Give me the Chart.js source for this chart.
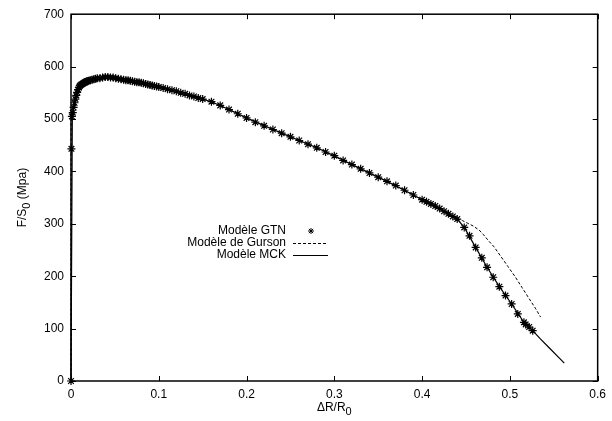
<!DOCTYPE html>
<html>
<head>
<meta charset="utf-8">
<script src="https://cdn.jsdelivr.net/npm/chart.js@4/dist/chart.umd.min.js"></script>
<style>
  html, body { margin: 0; padding: 0; background: #fff; }
  #wrap { width: 612px; height: 421px; position: relative; }
</style>
</head>
<body>
<div id="wrap"><canvas id="chart"></canvas></div>
<script>
// Axis ticks
const xTickLabels = ['0', '0.1', '0.2', '0.3', '0.4', '0.5', '0.6'];
const yTickLabels = ['0', '100', '200', '300', '400', '500', '600', '700'];

// Modèle GTN (stars)
const gtnX = [0, 0.0005, 0.001, 0.002, 0.003, 0.004, 0.005, 0.006, 0.007, 0.008, 0.009, 0.010, 0.011, 0.012,
  0.013, 0.014, 0.015, 0.016, 0.017, 0.018, 0.019,
  0.020, 0.022, 0.024, 0.026, 0.028, 0.030, 0.033, 0.036, 0.039, 0.042, 0.045, 0.048, 0.051, 0.054, 0.057,
  0.060, 0.0625, 0.065, 0.0675, 0.070, 0.0725, 0.075, 0.0775, 0.080, 0.0825, 0.085, 0.0875, 0.090, 0.0925,
  0.095, 0.0975, 0.100, 0.105, 0.110, 0.115, 0.120, 0.125, 0.130, 0.135, 0.140, 0.145,
  0.150, 0.160, 0.170, 0.180, 0.190, 0.200, 0.210, 0.220, 0.230, 0.240, 0.250, 0.260, 0.270, 0.280, 0.290,
  0.300, 0.310, 0.320, 0.330, 0.340, 0.350, 0.360, 0.370, 0.380, 0.390, 0.400, 0.405, 0.410, 0.415, 0.420,
  0.425, 0.430, 0.435, 0.440, 0.448, 0.454, 0.461, 0.468, 0.474, 0.481, 0.488, 0.495, 0.502, 0.509, 0.516,
  0.518, 0.522, 0.526];
const gtnY = [0, 443, 505, 512, 522, 531, 538, 545, 551, 556, 560, 563, 565, 566,
  567, 568, 569, 570, 571, 572, 572,
  573, 574, 575, 576, 577, 578, 578, 579, 580, 580, 579, 579, 578, 577, 576,
  575, 574, 574, 573, 572, 571, 570, 570, 569, 568, 567, 566, 565, 564,
  563, 562, 561, 559, 557, 555, 553, 550, 548, 545, 543, 540,
  538, 533, 526, 518, 510, 502, 494, 487, 480, 473, 466, 459, 452, 445, 437,
  430, 421, 413, 405, 397, 389, 381, 373, 364, 355, 346, 342, 338, 334, 329,
  324, 319, 314, 309, 293, 277, 255, 235, 217, 198, 180, 163, 147, 128, 112,
  108, 103, 96];

// Modèle MCK (solid line)
const mckX = [0, 0.0015, 0.003, 0.005, 0.008, 0.010, 0.014, 0.020, 0.030, 0.040, 0.050, 0.060, 0.080, 0.100,
  0.120, 0.140, 0.160, 0.180, 0.200, 0.220, 0.240, 0.260, 0.280, 0.300, 0.320, 0.340, 0.360, 0.380, 0.400,
  0.420, 0.440, 0.448, 0.461, 0.474, 0.488, 0.502, 0.516, 0.526, 0.535, 0.545, 0.555, 0.562];
const mckY = [0, 502, 522, 538, 556, 563, 568, 573, 578, 580, 578, 575, 569, 561,
  553, 543, 533, 518, 502, 487, 473, 459, 445, 430, 413, 397, 381, 364, 346,
  329, 309, 293, 255, 217, 180, 147, 112, 96, 80, 63, 46, 34];

// Modèle de Gurson (dashed line)
const gursonX = [0, 0, 0.002, 0.005, 0.010, 0.020, 0.030, 0.040, 0.060, 0.080, 0.100, 0.120, 0.140, 0.160,
  0.180, 0.200, 0.240, 0.280, 0.320, 0.360, 0.400, 0.420, 0.440, 0.446, 0.452, 0.458, 0.465, 0.470, 0.476,
  0.482, 0.490, 0.498, 0.506, 0.514, 0.522, 0.529, 0.535];
const gursonY = [0, 505, 514, 538, 563, 573, 578, 580, 575, 569, 561, 553, 543, 533,
  518, 502, 473, 445, 413, 381, 346, 329, 310, 306, 301, 296, 288, 279, 267,
  256, 237, 218, 199, 178, 157, 139, 122];

const toPts = (xs, ys) => xs.map((x, i) => ({ x: x, y: ys[i] }));

const FONT = '12px "Liberation Sans", Arial, sans-serif';

function drawStar(ctx, x, y, r) {
  const d = r * Math.SQRT1_2;
  ctx.beginPath();
  ctx.moveTo(x - r, y); ctx.lineTo(x + r, y);
  ctx.moveTo(x, y - r); ctx.lineTo(x, y + r);
  ctx.moveTo(x - d, y - d); ctx.lineTo(x + d, y + d);
  ctx.moveTo(x - d, y + d); ctx.lineTo(x + d, y - d);
  ctx.stroke();
}

// Frame, inward ticks, axis titles with subscripts and the gnuplot-like key
const decor = {
  id: 'decor',
  afterDraw(chart) {
    const ctx = chart.ctx;
    const a = chart.chartArea;
    const xs = chart.scales.x, ys = chart.scales.y;
    ctx.save();
    ctx.strokeStyle = '#000';
    ctx.lineWidth = 1;
    ctx.beginPath();
    xs.ticks.forEach(t => {
      const px = Math.round(xs.getPixelForValue(t.value)) + 0.5;
      ctx.moveTo(px, a.bottom); ctx.lineTo(px, a.bottom - 5);
      ctx.moveTo(px, a.top); ctx.lineTo(px, a.top + 5);
    });
    ys.ticks.forEach(t => {
      const py = Math.round(ys.getPixelForValue(t.value)) + 0.5;
      ctx.moveTo(a.left, py); ctx.lineTo(a.left + 5, py);
      ctx.moveTo(a.right, py); ctx.lineTo(a.right - 5, py);
    });
    ctx.stroke();
    ctx.lineWidth = 1.5;
    ctx.strokeRect(a.left, a.top, a.right - a.left, a.bottom - a.top);

    // Axis titles
    ctx.fillStyle = '#000';
    ctx.font = FONT;
    ctx.textBaseline = 'middle';
    const sub = '11px "Liberation Sans", Arial, sans-serif';
    // x title: ΔR/R0
    const xMain = '\u0394R/R';
    const wMain = ctx.measureText(xMain).width;
    ctx.font = sub;
    const wSub = ctx.measureText('0').width;
    const cx = (a.left + a.right) / 2;
    const x0 = cx - (wMain + wSub) / 2;
    ctx.font = FONT;
    ctx.textAlign = 'left';
    ctx.fillText(xMain, x0, 408);
    ctx.font = sub;
    ctx.fillText('0', x0 + wMain, 412);
    // y title: F/S0 (Mpa)
    ctx.save();
    ctx.translate(23, (a.top + a.bottom) / 2);
    ctx.rotate(-Math.PI / 2);
    ctx.font = FONT;
    const p1 = 'F/S', p3 = ' (Mpa)';
    const w1 = ctx.measureText(p1).width, w3 = ctx.measureText(p3).width;
    ctx.font = sub;
    const w2 = ctx.measureText('0').width;
    let sx = -(w1 + w2 + w3) / 2;
    ctx.font = FONT;
    ctx.fillText(p1, sx, 0);
    ctx.font = sub;
    ctx.fillText('0', sx + w1, 4);
    ctx.font = FONT;
    ctx.fillText(p3, sx + w1 + w2, 0);
    ctx.restore();

    // Key
    const names = chart.data.datasets.map(d => d.label);
    const rows = [231, 243, 255];
    ctx.font = FONT;
    ctx.textAlign = 'right';
    names.forEach((n, i) => ctx.fillText(n, 286, rows[i]));
    ctx.lineWidth = 1;
    drawStar(ctx, 311, rows[0], 3);
    ctx.setLineDash([3, 2]);
    ctx.beginPath(); ctx.moveTo(293, rows[1] + 0.5); ctx.lineTo(328, rows[1] + 0.5); ctx.stroke();
    ctx.setLineDash([]);
    ctx.beginPath(); ctx.moveTo(293, rows[2] + 0.5); ctx.lineTo(328, rows[2] + 0.5); ctx.stroke();
    ctx.restore();
  }
};

new Chart(document.getElementById('chart'), {
  type: 'scatter',
  data: {
    datasets: [
      {
        label: 'Mod\u00e8le GTN',
        data: toPts(gtnX, gtnY),
        showLine: false,
        pointStyle: 'star',
        pointRadius: 4,
        borderColor: '#000',
        backgroundColor: '#000',
        borderWidth: 1.2,
        clip: false
      },
      {
        label: 'Mod\u00e8le de Gurson',
        data: toPts(gursonX, gursonY),
        showLine: true,
        borderColor: '#000',
        borderWidth: 1,
        borderDash: [3, 2],
        pointRadius: 0,
        tension: 0,
        clip: false
      },
      {
        label: 'Mod\u00e8le MCK',
        data: toPts(mckX, mckY),
        showLine: true,
        borderColor: '#000',
        borderWidth: 1.2,
        pointRadius: 0,
        tension: 0,
        clip: false
      }
    ]
  },
  options: {
    responsive: true,
    maintainAspectRatio: false,
    animation: false,
    layout: { padding: { top: 13, right: 13, left: 0, bottom: 0 } },
    plugins: { legend: { display: false }, tooltip: { enabled: false } },
    scales: {
      x: {
        type: 'linear',
        min: 0, max: 0.6,
        afterFit: s => { s.height = 40; },
        grid: { display: false, drawTicks: false },
        border: { display: false },
        ticks: {
          stepSize: 0.1,
          padding: 6,
          color: '#000',
          font: { family: '"Liberation Sans", Arial, sans-serif', size: 12 },
          maxRotation: 0,
          callback: (v, i) => xTickLabels[i]
        }
      },
      y: {
        type: 'linear',
        min: 0, max: 700,
        afterFit: s => { s.width = 71; },
        grid: { display: false, drawTicks: false },
        border: { display: false },
        ticks: {
          stepSize: 100,
          padding: 7,
          color: '#000',
          font: { family: '"Liberation Sans", Arial, sans-serif', size: 12 },
          callback: (v, i) => yTickLabels[i]
        }
      }
    }
  },
  plugins: [decor]
});
</script>
</body>
</html>
